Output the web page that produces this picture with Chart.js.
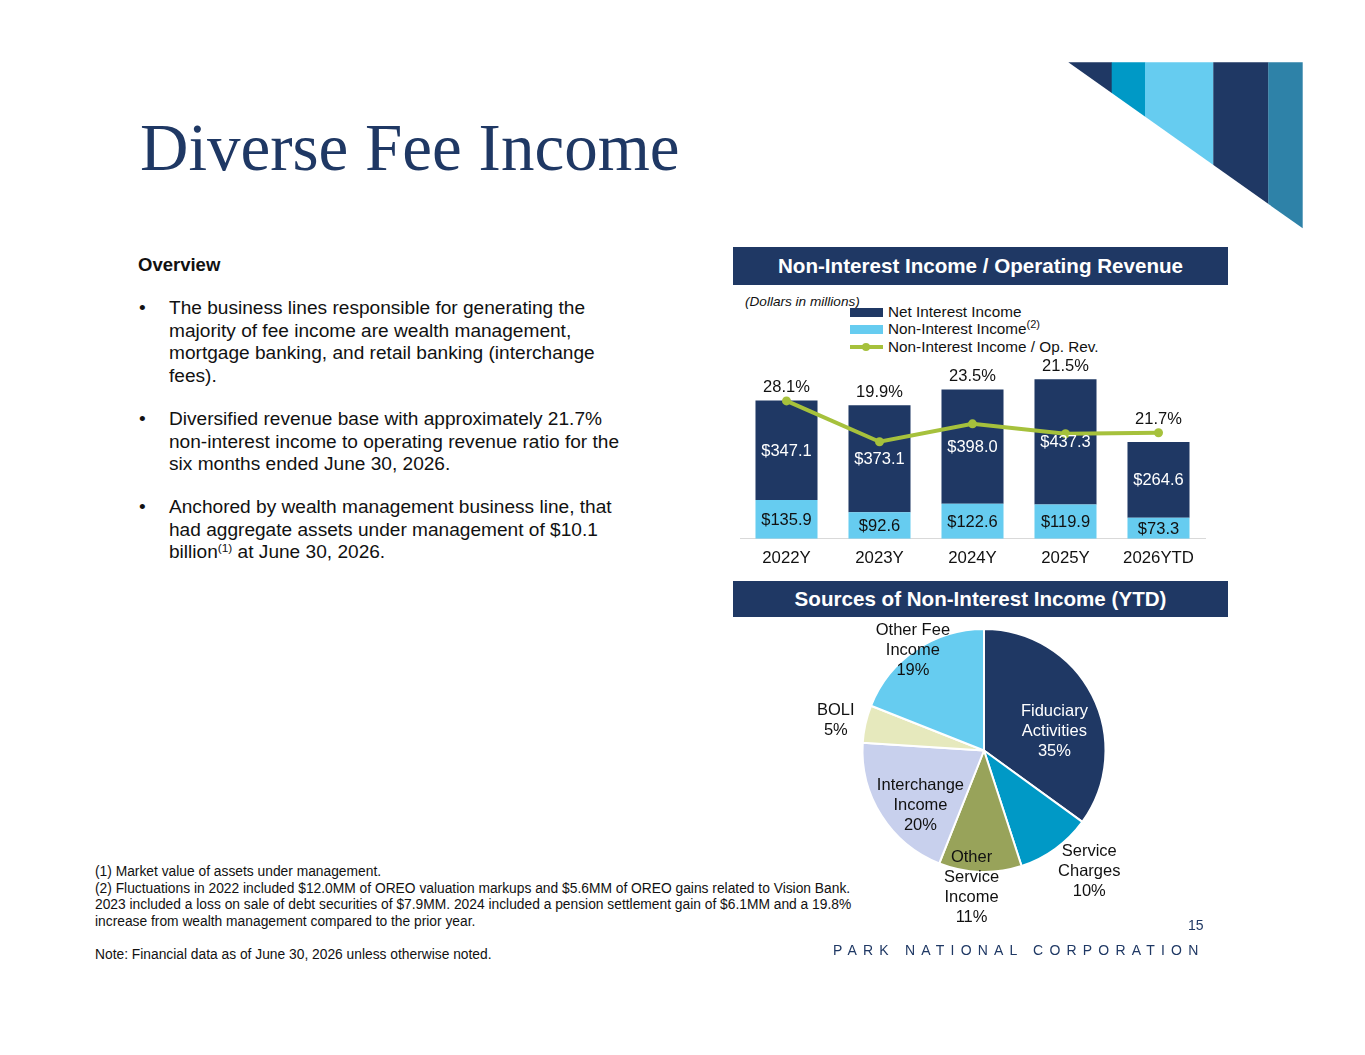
<!DOCTYPE html>
<html>
<head>
<meta charset="utf-8">
<script src="https://cdn.jsdelivr.net/npm/chart.js@4.4.1/dist/chart.umd.min.js"></script>
<style>
  html, body { margin:0; padding:0; background:#fff; }
  #page { position:relative; width:1365px; height:1055px; overflow:hidden; background:#fff; font-family:"Liberation Sans", Arial, sans-serif; color:#111; }
  .abs { position:absolute; white-space:nowrap; }
  #title { left:140px; top:114px; font-family:"Liberation Serif", "Times New Roman", serif; font-size:67px; line-height:1; color:#1f3864; }
  #overview { left:138px; top:256px; font-size:18.5px; font-weight:bold; line-height:1; color:#111; }
  .para { left:169px; font-size:19.1px; line-height:22.6px; color:#111; }
  .para sup { font-size:62%; }
  .bullet { font-size:19.1px; line-height:22.6px; left:139px; color:#111; }
  .foot { left:95px; font-size:13.8px; line-height:16.7px; color:#111; }
  .hdr { left:733px; width:495px; background:#1f3864; color:#fff; font-weight:bold; font-size:20.6px; text-align:center; }
  .leg { font-size:15.3px; line-height:1; color:#111; }
  sup { font-size:72%; line-height:0; vertical-align:0.55em; }
</style>
</head>
<body>
<div id="page">
  <svg class="abs" style="left:0;top:0" width="1365" height="260">
    <defs>
      <clipPath id="tri"><polygon points="1068.3,62.3 1302.7,62.3 1302.7,228.3"/></clipPath>
    </defs>
    <g clip-path="url(#tri)">
      <rect x="1068" y="62" width="44" height="170" fill="#1f3864"/>
      <rect x="1111.7" y="62" width="33.5" height="170" fill="#0099c6"/>
      <rect x="1145" y="62" width="68.5" height="170" fill="#66ccf0"/>
      <rect x="1213.3" y="62" width="55.2" height="170" fill="#1f3864"/>
      <rect x="1268.3" y="62" width="35" height="170" fill="#2e82a8"/>
    </g>
  </svg>

  <div id="title" class="abs">Diverse Fee Income</div>
  <div id="overview" class="abs">Overview</div>

  <div class="abs bullet" style="top:297px">•</div>
  <div class="abs para" style="top:297px">The business lines responsible for generating the<br>majority of fee income are wealth management,<br>mortgage banking, and retail banking (interchange<br>fees).</div>
  <div class="abs bullet" style="top:408px">•</div>
  <div class="abs para" style="top:408px">Diversified revenue base with approximately 21.7%<br>non-interest income to operating revenue ratio for the<br>six months ended June 30, 2026.</div>
  <div class="abs bullet" style="top:496px">•</div>
  <div class="abs para" style="top:496px">Anchored by wealth management business line, that<br>had aggregate assets under management of $10.1<br>billion<sup>(1)</sup> at June 30, 2026.</div>

  <div class="abs foot" style="top:864px">(1) Market value of assets under management.<br>(2) Fluctuations in 2022 included $12.0MM of OREO valuation markups and $5.6MM of OREO gains related to Vision Bank.<br>2023 included a loss on sale of debt securities of $7.9MM. 2024 included a pension settlement gain of $6.1MM and a 19.8%<br>increase from wealth management compared to the prior year.</div>
  <div class="abs foot" style="top:947px">Note: Financial data as of June 30, 2026 unless otherwise noted.</div>

  <div class="abs hdr" style="top:247px;height:38px;line-height:38px;">Non-Interest Income / Operating Revenue</div>
  <div class="abs hdr" style="top:581px;height:36px;line-height:36px;">Sources of Non-Interest Income (YTD)</div>

  <div class="abs" style="left:745px;top:295px;font-size:13.6px;font-style:italic;line-height:1;color:#111;">(Dollars in millions)</div>
  <div class="abs" style="left:850px;top:307.5px;width:33px;height:9px;background:#1f3864;"></div>
  <div class="abs leg" style="left:888px;top:304px;">Net Interest Income</div>
  <div class="abs" style="left:850px;top:324.5px;width:33px;height:9px;background:#66ccf0;"></div>
  <div class="abs leg" style="left:888px;top:321px;">Non-Interest Income<sup>(2)</sup></div>
  <div class="abs" style="left:850px;top:344.5px;width:33px;height:4px;background:#a6c13c;"></div>
  <div class="abs" style="left:862px;top:342.5px;width:8px;height:8px;border-radius:50%;background:#a6c13c;"></div>
  <div class="abs leg" style="left:888px;top:338.5px;">Non-Interest Income / Op. Rev.</div>

  <div class="abs" style="left:733px;top:290px;width:496px;height:290px;"><canvas id="barChart"></canvas></div>
  <div class="abs" style="left:734px;top:618px;width:500px;height:320px;"><canvas id="pieChart"></canvas></div>

  <div class="abs" style="left:1188px;top:918px;font-size:14px;line-height:1;color:#1f3864;">15</div>
  <div class="abs" style="left:833px;top:943px;font-size:14px;line-height:1;letter-spacing:6.2px;color:#1f3864;">PARK NATIONAL CORPORATION</div>
</div>

<script>
// ---- Data ----
const years = ['2022Y', '2023Y', '2024Y', '2025Y', '2026YTD'];
const netInterestIncome = [347.1, 373.1, 398.0, 437.3, 264.6];
const nonInterestIncome = [135.9, 92.6, 122.6, 119.9, 73.3];
const nonInterestRatio = [28.1, 19.9, 23.5, 21.5, 21.7];

const sourceCategories = ['Fiduciary\nActivities', 'Service\nCharges', 'Other\nService\nIncome', 'Interchange\nIncome', 'BOLI', 'Other Fee\nIncome'];
const sourceShares = [35, 10, 11, 20, 5, 19];

// ---- Styles ----
const NAVY = '#1f3864', LIGHT = '#66ccf0', GREEN = '#a6c13c';
const FONT = '"Liberation Sans", Arial, sans-serif';
const pieColors = ['#1f3864', '#0099c6', '#98a35a', '#c8d0ed', '#e6e9bd', '#66ccf0'];
const pieTextColors = ['#ffffff', '#111', '#111', '#111', '#111', '#111'];
const pieLabelRadius = [0.6, 1.32, 1.13, 0.69, 1.245, 1.01];
const pieLabelShiftDeg = [12, -5, 3.4, -8.3, -1, -1.2];

const barLabels = {
  id: 'barLabels',
  afterDatasetsDraw(chart) {
    const ctx = chart.ctx;
    const mNon = chart.getDatasetMeta(0), mNii = chart.getDatasetMeta(1), mLine = chart.getDatasetMeta(2);
    ctx.save();
    ctx.font = '16.5px ' + FONT;
    ctx.textAlign = 'center';
    ctx.textBaseline = 'middle';
    mNon.data.forEach((b, i) => {
      ctx.fillStyle = '#111';
      ctx.fillText('$' + nonInterestIncome[i].toFixed(1), b.x, (b.y + b.base) / 2 + 1);
    });
    mNii.data.forEach((b, i) => {
      ctx.fillStyle = '#ffffff';
      ctx.fillText('$' + netInterestIncome[i].toFixed(1), b.x, (b.y + b.base) / 2 + 1);
    });
    mLine.data.forEach((p, i) => {
      const top = Math.min(mNii.data[i].y, p.y);
      ctx.fillStyle = '#111';
      ctx.fillText(nonInterestRatio[i].toFixed(1) + '%', p.x, top - 13);
    });
    ctx.restore();
  }
};

new Chart(document.getElementById('barChart'), {
  data: {
    labels: years,
    datasets: [
      { type: 'bar', label: 'Non-Interest Income', data: nonInterestIncome, backgroundColor: LIGHT, yAxisID: 'y', order: 1, categoryPercentage: 0.667, barPercentage: 1 },
      { type: 'bar', label: 'Net Interest Income', data: netInterestIncome, backgroundColor: NAVY, yAxisID: 'y', order: 1, categoryPercentage: 0.667, barPercentage: 1 },
      { type: 'line', label: 'Non-Interest Income / Op. Rev.', data: nonInterestRatio, borderColor: GREEN, backgroundColor: GREEN, borderWidth: 4, pointRadius: 4.5, pointHoverRadius: 4.5, pointBackgroundColor: GREEN, pointBorderWidth: 0, tension: 0, yAxisID: 'y2', order: 0 }
    ]
  },
  options: {
    responsive: true,
    maintainAspectRatio: false,
    animation: false,
    layout: { padding: { left: 7, right: 24, top: 74, bottom: 3 } },
    plugins: { legend: { display: false }, tooltip: { enabled: false } },
    scales: {
      x: {
        stacked: true,
        grid: { display: false, drawTicks: false },
        border: { display: true, color: '#d9d9d9', width: 1 },
        ticks: { color: '#111', font: { family: FONT, size: 16.8 }, padding: 9 }
      },
      y: { stacked: true, display: false, min: 0, max: 610 },
      y2: { stacked: false, display: false, min: 0.42, max: 35.5, position: 'right' }
    }
  },
  plugins: [barLabels]
});

const pieLabels = {
  id: 'pieLabels',
  afterDatasetsDraw(chart) {
    const ctx = chart.ctx;
    const meta = chart.getDatasetMeta(0);
    ctx.save();
    ctx.font = '16.5px ' + FONT;
    ctx.textAlign = 'center';
    ctx.textBaseline = 'middle';
    meta.data.forEach((arc, i) => {
      const mid = (arc.startAngle + arc.endAngle) / 2 + pieLabelShiftDeg[i] * Math.PI / 180;
      const r = arc.outerRadius * pieLabelRadius[i];
      const cx = arc.x + r * Math.cos(mid), cy = arc.y + r * Math.sin(mid);
      const lines = sourceCategories[i].split('\n').concat([sourceShares[i] + '%']);
      const lh = 20;
      ctx.fillStyle = pieTextColors[i];
      lines.forEach((t, k) => ctx.fillText(t, cx, cy + (k - (lines.length - 1) / 2) * lh));
    });
    ctx.restore();
  }
};

new Chart(document.getElementById('pieChart'), {
  type: 'pie',
  data: {
    labels: sourceCategories,
    datasets: [{ data: sourceShares, backgroundColor: pieColors, borderColor: '#ffffff', borderWidth: 2 }]
  },
  options: {
    responsive: true,
    maintainAspectRatio: false,
    animation: false,
    radius: 121.5,
    layout: { padding: { left: 0, right: 0, top: 0, bottom: 55 } },
    plugins: { legend: { display: false }, tooltip: { enabled: false } }
  },
  plugins: [pieLabels]
});
</script>
</body>
</html>
